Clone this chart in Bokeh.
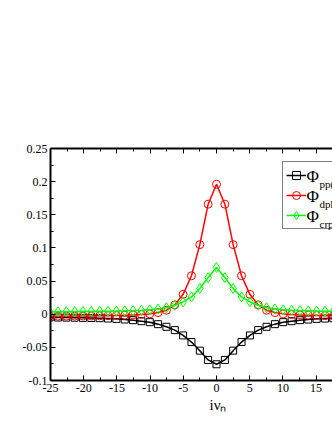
from bokeh.plotting import figure
from bokeh.models import (Range1d, FixedTicker, LinearAxis, Legend, LegendItem,
                          Label, Title, CustomJSTickFormatter)
from bokeh.embed import file_html
from bokeh.resources import INLINE

# Matsubara frequencies i nu_n (n = -20 .. 15)
nu = [-25.13, -23.88, -22.62, -21.36, -20.11, -18.85, -17.59, -16.34, -15.08,
      -13.82, -12.57, -11.31, -10.05, -8.80, -7.54, -6.28, -5.03, -3.77, -2.51,
      -1.26, 0.0, 1.26, 2.51, 3.77, 5.03, 6.28, 7.54, 8.80, 10.05, 11.31, 12.57,
      13.82, 15.08, 16.34, 17.59, 18.85]

phi_pp = [-0.0048, -0.0050, -0.0051, -0.0053, -0.0055, -0.0057, -0.0060, -0.0065,
          -0.0070, -0.0080, -0.0090, -0.0105, -0.0120, -0.0150, -0.0190, -0.0240,
          -0.0320, -0.0420, -0.0550, -0.0690, -0.0755, -0.0690, -0.0550, -0.0420,
          -0.0320, -0.0240, -0.0190, -0.0150, -0.0120, -0.0105, -0.0090, -0.0080,
          -0.0070, -0.0065, -0.0060, -0.0057]

phi_dph = [-0.0030, -0.0030, -0.0029, -0.0028, -0.0027, -0.0026, -0.0024, -0.0022,
           -0.0020, -0.0015, -0.0010, -0.0005, 0.0005, 0.0025, 0.0060, 0.0140,
           0.0300, 0.0580, 0.1050, 0.1660, 0.1960, 0.1660, 0.1050, 0.0580,
           0.0300, 0.0140, 0.0060, 0.0025, 0.0005, -0.0005, -0.0010, -0.0015,
           -0.0020, -0.0022, -0.0024, -0.0026]

phi_crp = [0.0037, 0.0038, 0.0039, 0.0040, 0.0041, 0.0042, 0.0044, 0.0046,
           0.0048, 0.0051, 0.0055, 0.0060, 0.0066, 0.0078, 0.0098, 0.0135,
           0.0186, 0.0262, 0.0388, 0.0553, 0.0705, 0.0553, 0.0388, 0.0262,
           0.0186, 0.0135, 0.0098, 0.0078, 0.0066, 0.0060, 0.0055, 0.0051,
           0.0048, 0.0046, 0.0044, 0.0042]

x_ticks = [-25, -20, -15, -10, -5, 0, 5, 10, 15]
x_minor = [-22.5, -17.5, -12.5, -7.5, -2.5, 2.5, 7.5, 12.5, 17.5]
y_ticks = [-0.1, -0.05, 0, 0.05, 0.1, 0.15, 0.2, 0.25]
y_minor = [-0.075, -0.025, 0.025, 0.075, 0.125, 0.175, 0.225]

FONT = "'Liberation Serif', serif"

p = figure(width=332, height=430, output_backend="svg", toolbar_location=None,
           x_range=Range1d(-25, 17.47), y_range=Range1d(-0.1, 0.25),
           min_border_left=50, min_border_right=0, min_border_top=148,
           min_border_bottom=50)
p.grid.visible = False
p.outline_line_color = None
p.background_fill_color = "white"
p.border_fill_color = "white"

fmt = CustomJSTickFormatter(code="return String(tick);")

def style_axis(ax, ticks, minor):
    ax.ticker = FixedTicker(ticks=ticks, minor_ticks=minor)
    ax.formatter = fmt
    ax.axis_line_width = 2
    ax.axis_line_color = "black"
    ax.major_tick_in = 5
    ax.major_tick_out = 0
    ax.minor_tick_in = 3
    ax.minor_tick_out = 0
    ax.major_tick_line_width = 1
    ax.minor_tick_line_width = 1
    ax.major_label_text_font = FONT
    ax.major_label_text_font_size = "12px"
    ax.major_label_text_color = "black"
    ax.major_label_standoff = 3

style_axis(p.xaxis[0], x_ticks, x_minor)
style_axis(p.yaxis[0], y_ticks, y_minor)

top = LinearAxis(major_label_text_font_size="0px", major_label_standoff=0)
style_axis(top, x_ticks, x_minor)
top.major_label_text_font_size = "0px"
top.major_label_standoff = 0
top.major_label_overrides = {t: "" for t in x_ticks}
p.add_layout(top, "above")

# x-axis label i nu_n as a title placed below the axis
p.add_layout(Title(text="iνₙ", align="left", offset=159, standoff=0,
                   text_font=FONT, text_font_size="15px",
                   text_font_style="normal", text_color="black"), "below")

series = [
    (phi_pp, "black", "square", 7, "pp("),
    (phi_dph, "#ff0000", "circle", 8, "dph"),
    (phi_crp, "#00ff00", "diamond", 10, "crp"),
]

items = []
for vals, col, mk, sz, sub in series:
    ln = p.line(nu, vals, line_color=col, line_width=1.5)
    sc = p.scatter(nu, vals, marker=mk, size=sz, line_color=col,
                   fill_color=None, line_width=1)
    items.append(LegendItem(label="", renderers=[ln, sc]))

legend = Legend(items=items, location=(232, 151), padding=3, spacing=0,
                margin=0, glyph_width=20, glyph_height=20, label_height=20,
                label_width=60, label_standoff=0, label_text_font_size="10px",
                border_line_color="black", border_line_width=1.5,
                background_fill_color="white", background_fill_alpha=0)
p.add_layout(legend, "center")

# legend labels (Phi with subscripts), screen units relative to the frame
phi_y = [204, 184, 164]
for (vals, col, mk, sz, sub), yy in zip(series, phi_y):
    p.add_layout(Label(x=256, y=yy, x_units="screen", y_units="screen",
                       text="Φ", text_font=FONT, text_font_size="17px",
                       text_baseline="middle", text_color="black"))
    p.add_layout(Label(x=269, y=yy - 7, x_units="screen", y_units="screen",
                       text=sub, text_font=FONT, text_font_size="11px",
                       text_baseline="middle", text_color="black"))

open("out.html", "w").write(file_html(p, INLINE))
